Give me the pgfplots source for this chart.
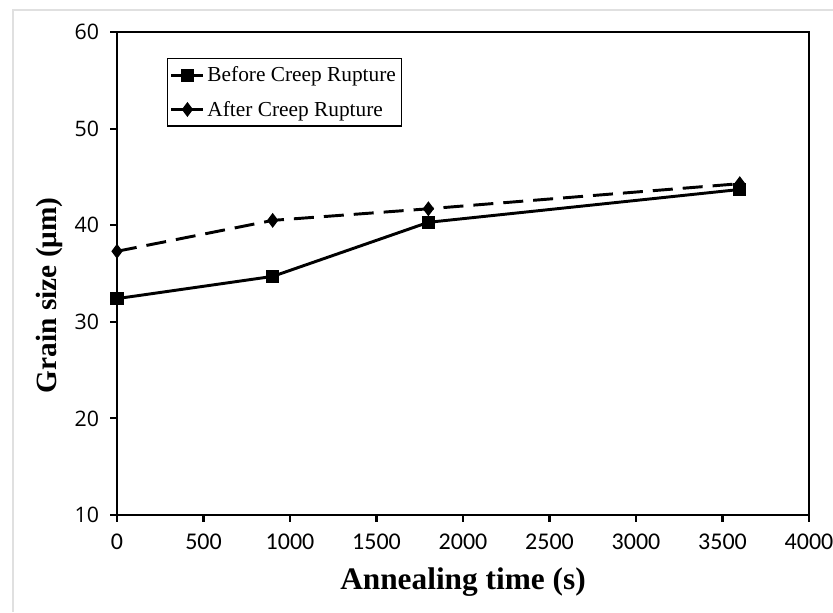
\documentclass[border=0pt]{standalone}
\usepackage{fontspec}
\setmainfont{Liberation Serif}
\newfontfamily\ytickfont{Open Sans}
\newfontfamily\xtickfont{Carlito}
\usepackage{pgfplots}
\pgfplotsset{compat=1.18}

\begin{document}
\begin{tikzpicture}
% light frame of the original figure (left and top edges only)
\path[use as bounding box] (-87.75pt,-72.75pt) rectangle (537pt,386.25pt);
\draw[black!12, line width=0.8pt] (-78pt,-72.75pt) -- (-78pt,378.75pt) -- (537pt,378.75pt);
\begin{axis}[
  at={(0,0)}, anchor=south west,
  scale only axis,
  width=519pt, height=362.25pt,
  xmin=0, xmax=4000,
  ymin=10, ymax=60,
  xtick={0,500,...,4000},
  ytick={10,20,...,60},
  tick align=outside,
  xtick pos=bottom, ytick pos=left,
  major tick length=5pt,
  every tick/.style={black, line width=1.6pt},
  axis line style={line width=2pt},
  scaled x ticks=false,
  /pgf/number format/assume math mode=true,
  /pgf/number format/1000 sep={},
  xticklabel style={font=\xtickfont\fontsize{18}{18}\selectfont, yshift=-6pt},
  yticklabel style={font=\ytickfont\fontsize{16}{16}\selectfont, xshift=-5pt},
  xlabel={Annealing time (s)},
  ylabel={Grain size (μm)},
  xlabel style={font=\fontsize{23.5}{23.5}\selectfont\bfseries, yshift=-6pt},
  ylabel style={font=\fontsize{22}{22}\selectfont\bfseries, at={(ticklabel cs:0.455)}, yshift=2pt},
  legend cell align=left,
  legend style={at={(0.072,0.946)}, anchor=north west, draw=black, line width=0.8pt,
    font=\fontsize{16}{18}\selectfont, row sep=9pt, inner xsep=2pt, inner ysep=4pt},
  legend image code/.code={%
    \draw[mark repeat=2, mark phase=2, #1, solid, line width=2.2pt]
      plot coordinates {(0cm,0cm) (0.42cm,0cm) (0.84cm,0cm)};},
]
\addplot[black, line width=2.2pt, mark=square*, mark size=3.8pt, mark options={solid}]
  coordinates {(0,32.4) (900,34.7) (1800,40.3) (3600,43.7)};
\addlegendentry{Before Creep Rupture}
\addplot[black, line width=2.2pt, dash pattern=on 15pt off 7.5pt, mark=diamond*, mark size=3.8pt, mark options={solid}]
  coordinates {(0,37.3) (900,40.5) (1800,41.7) (3600,44.3)};
\addlegendentry{After Creep Rupture}
\end{axis}
\end{tikzpicture}
\end{document}
